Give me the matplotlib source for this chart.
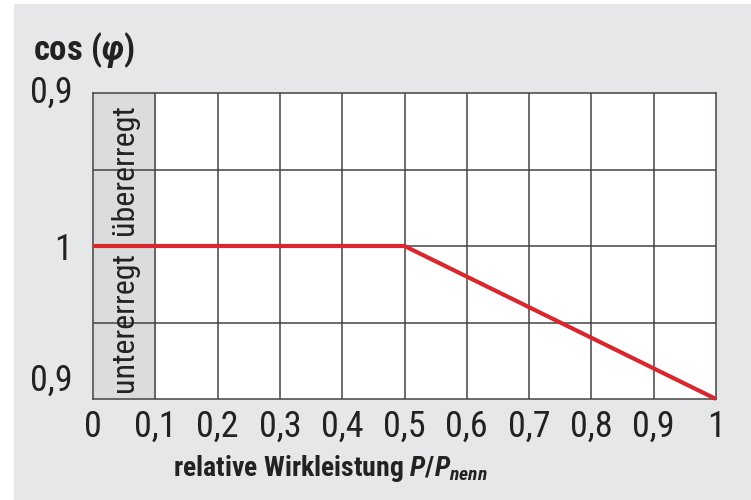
import matplotlib
matplotlib.use("Agg")
import matplotlib.pyplot as plt
from matplotlib.patches import Rectangle

# Font: condensed look like the original
plt.rcParams['font.family'] = ['Roboto Condensed', 'DejaVu Sans']
plt.rcParams['mathtext.fontset'] = 'custom'
plt.rcParams['mathtext.rm'] = 'Roboto Condensed:weight=bold'
plt.rcParams['mathtext.it'] = 'Roboto Condensed:style=italic:weight=bold'
plt.rcParams['mathtext.bf'] = 'Roboto Condensed:weight=bold'

# Data
p_rel = [0.0, 0.5, 1.0]          # relative Wirkleistung P/Pnenn
cos_phi = [1.0, 1.0, 0.9]        # Leistungsfaktor (untererregt)
x_ticks = [0, 0.1, 0.2, 0.3, 0.4, 0.5, 0.6, 0.7, 0.8, 0.9, 1.0]
x_labels = ["0", "0,1", "0,2", "0,3", "0,4", "0,5", "0,6", "0,7", "0,8", "0,9", "1"]
y_labels = ["0,9", "1", "0,9"]

# untererregt -> below the 1 line, übererregt -> above
y_vals = [-(1 - c) for c in cos_phi]

bg = "#e6e7e8"
grid_col = "#444444"
red = "#d9272e"

fig = plt.figure(figsize=(7.51, 5.0), dpi=100, facecolor="white")
# gray panel behind everything (small white strip left and top)
fig.patches.append(Rectangle((14 / 751, 0), 1, 1 - 4 / 500, transform=fig.transFigure,
                             facecolor=bg, edgecolor="none", zorder=-10))

ax = fig.add_axes([93 / 751, 1 - 399 / 500, (716 - 93) / 751, (399 - 93) / 500])
ax.set_facecolor("white")
ax.set_xlim(0, 1)
ax.set_ylim(-0.1, 0.1)

# shaded first column
ax.axvspan(0, 0.1, color="#dadcde", zorder=0)

# grid
for gx in x_ticks[1:-1]:
    ax.axvline(gx, color=grid_col, lw=1.1, zorder=1)
for gy in [-0.05, 0.0, 0.05]:
    ax.axhline(gy, color=grid_col, lw=1.1, zorder=1)
for s in ax.spines.values():
    s.set_color(grid_col)
    s.set_linewidth(1.1)

ax.plot(p_rel, y_vals, color=red, lw=3, solid_capstyle="butt", zorder=3, clip_on=False)

ax.text(0.05, 0.05, "übererregt", rotation=90, ha="center", va="center",
        fontsize=23, color="#222222", zorder=2)
ax.text(0.05, -0.05, "untererregt", rotation=90, ha="center", va="center",
        fontsize=23, color="#222222", zorder=2)

ax.set_xticks(x_ticks)
ax.set_xticklabels(x_labels)
ax.set_yticks([0.1, 0.0, -0.1])
ax.set_yticklabels(y_labels)
ax.tick_params(length=0, labelsize=26, colors="#222222")
ax.tick_params(axis="x", pad=7)
ax.tick_params(axis="y", pad=15)
yl = ax.get_yticklabels()
yl[0].set_va("center")
yl[2].set_va("bottom")

fig.text(33 / 751, 1 - 50 / 500, r"cos ($\varphi$)", fontsize=25, fontweight="bold",
         ha="left", va="center", color="#222222")
fig.text(330 / 751, 1 - 468 / 500, r"relative Wirkleistung $P/P_{nenn}$", fontsize=20,
         fontweight="bold", ha="center", va="center", color="#222222")

fig.savefig("out.png", dpi=100, facecolor=fig.get_facecolor())
